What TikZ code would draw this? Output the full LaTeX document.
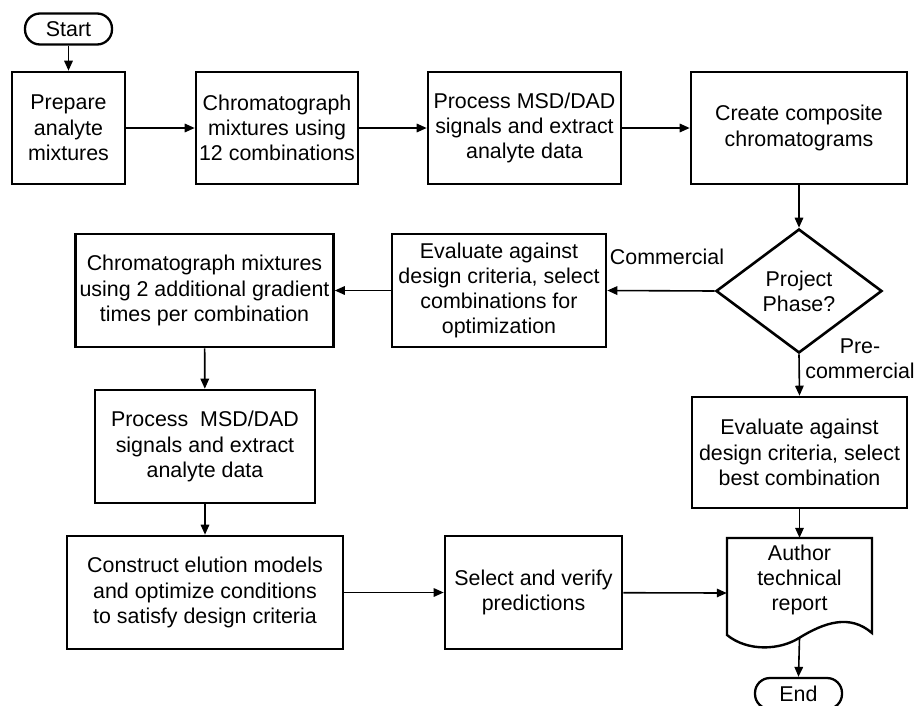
\documentclass[tikz,border=0pt]{standalone}
\usepackage{fontspec}
\setmainfont{Liberation Sans}
\usetikzlibrary{shapes.geometric,arrows.meta}
\begin{document}
\begin{tikzpicture}[x=1pt,y=-1pt,
  every node/.style={font=\fontsize{21.4}{25.3}\selectfont, align=center},
  box/.style={draw, line width=2.6pt, rectangle, inner sep=0pt},
  term/.style={draw, line width=2.3pt, rounded corners=15pt, minimum width=87pt, minimum height=31pt, inner sep=0pt},
  conn/.style={line width=1.6pt, -{Triangle[length=10pt,width=8.5pt]}},
  lbl/.style={font=\fontsize{21.4}{25.3}\selectfont}]
\useasboundingbox (0,0) rectangle (916,705);
\begin{scope}
\clip (0,0) rectangle (916,705);
% terminals
\node[term] (start) at (68.5,29) {Start};
\node[term] (end) at (798.5,693.5) {End};
\end{scope}
% row 1
\node[box, minimum width=113pt, minimum height=112pt] (prep) at (68.5,128) {Prepare\\analyte\\mixtures};
\node[box, minimum width=162pt, minimum height=112pt] (chrom1) at (277,128) {Chromatograph\\mixtures using\\12 combinations};
\node[box, minimum width=193pt, minimum height=112pt] (proc1) at (524.5,128) {Process MSD/DAD\\signals and extract\\analyte data};
\node[box, minimum width=216pt, minimum height=112pt] (comp) at (799,128) {Create composite\\chromatograms};
% decision
\node[draw, line width=2.6pt, diamond, aspect=1.34, minimum width=166pt, minimum height=124pt, inner sep=0pt] (phase) at (799,291) {Project\\Phase?};
% row 2
\node[box, minimum width=214pt, minimum height=113pt] (evalc) at (499,290.5) {Evaluate against\\design criteria, select\\combinations for\\optimization};
\node[box, minimum width=258pt, minimum height=113pt] (chrom2) at (204.5,290.5) {Chromatograph mixtures\\using 2 additional gradient\\times per combination};
% row 3
\node[box, minimum width=220pt, minimum height=113pt] (proc2) at (205,446.5) {Process\ \ MSD/DAD\\signals and extract\\analyte data};
\node[box, minimum width=215pt, minimum height=111pt] (evalp) at (799.5,452.5) {Evaluate against\\design criteria, select\\best combination};
% row 4
\node[box, minimum width=276pt, minimum height=113pt] (cons) at (205,592.5) {Construct elution models\\and optimize conditions\\to satisfy design criteria};
\node[box, minimum width=177pt, minimum height=113pt] (sel) at (533.5,592.5) {Select and verify\\predictions};
% document shape
\node[minimum width=145pt, minimum height=110pt, inner sep=0pt] (rep) at (799.5,593) {};
\draw[line width=2.4pt] (727,635) -- (727,538) -- (872,538) -- (872,633)
  .. controls (850,614) and (825,622) .. (799,638)
  .. controls (780,650) and (748,652) .. (727,635) -- cycle;
\node (reptext) at (799.5,580) {Author\\technical\\report};
\coordinate (repbot) at (799.5,638);
% labels
\node[lbl] (lcom) at (667,257) {Commercial};
\node[lbl, align=center] (lpre) at (860,359) {Pre-\\commercial};
% connectors
\draw[conn] (start) -- (prep);
\draw[conn] (prep) -- (chrom1);
\draw[conn] (chrom1) -- (proc1);
\draw[conn] (proc1) -- (comp);
\draw[conn] (comp) -- (phase);
\draw[conn] (phase.west) -- (evalc.east);
\draw[conn] (evalc) -- (chrom2);
\draw[conn] (chrom2) -- (proc2);
\draw[conn] (proc2) -- (cons);
\draw[conn] (cons) -- (sel);
\draw[conn] (sel) -- (rep.west);
\draw[conn] (phase.south) -- (evalp.north);
\draw[conn] (evalp.south) -- (rep.north);
\draw[conn] (repbot) -- (end.north);
\end{tikzpicture}
\end{document}
